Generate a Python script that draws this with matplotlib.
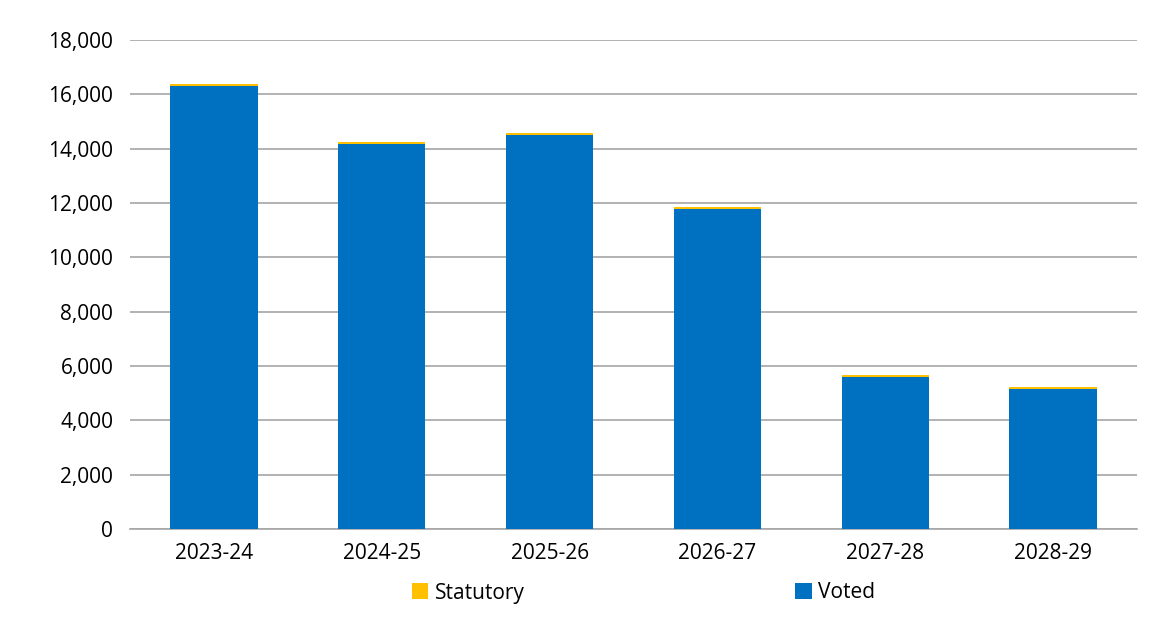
import matplotlib
matplotlib.use("Agg")
import matplotlib.pyplot as plt
from matplotlib.ticker import FuncFormatter

years = ["2023-24", "2024-25", "2025-26", "2026-27", "2027-28", "2028-29"]
voted = [16290, 14180, 14510, 11790, 5580, 5140]
statutory = [80, 80, 80, 75, 75, 75]

plt.rcParams['font.family'] = ['Open Sans', 'DejaVu Sans']
fig = plt.figure(figsize=(11.7, 6.26), dpi=100)
ax = fig.add_axes([130/1170, 1-529/626, 1007/1170, 489/626])
x = range(len(years))
ax.bar(x, voted, width=0.52, color="#0070C0", label="Voted", zorder=3)
ax.bar(x, statutory, bottom=voted, width=0.52, color="#FFC000", label="Statutory", zorder=3)
ax.set_ylim(0, 18000)
ax.set_xlim(-0.5, len(years) - 0.5)
ax.set_yticks(range(0, 18001, 2000))
ax.yaxis.set_major_formatter(FuncFormatter(lambda v, p: f"{int(v):,}"))
ax.set_xticks(list(x))
ax.set_xticklabels(years)
ax.tick_params(axis='both', labelsize=15, length=0, colors="#000000")
ax.tick_params(axis='x', pad=10)
ax.tick_params(axis='y', pad=12)
ax.grid(axis='y', color="#A6A6A6", linewidth=1.2, zorder=0)
for s in ["top", "right", "left"]:
    ax.spines[s].set_visible(False)
ax.spines["bottom"].set_color("#A6A6A6")
ax.spines["bottom"].set_linewidth(1.2)
h, l = ax.get_legend_handles_labels()
fig.legend([h[1], h[0]], [l[1], l[0]], loc="center", bbox_to_anchor=(0.55, 1-593/626),
           ncol=2, frameon=False, fontsize=15, columnspacing=13, handlelength=0.8,
           handleheight=0.8, handletextpad=0.3)
fig.savefig("out.png", dpi=100)
